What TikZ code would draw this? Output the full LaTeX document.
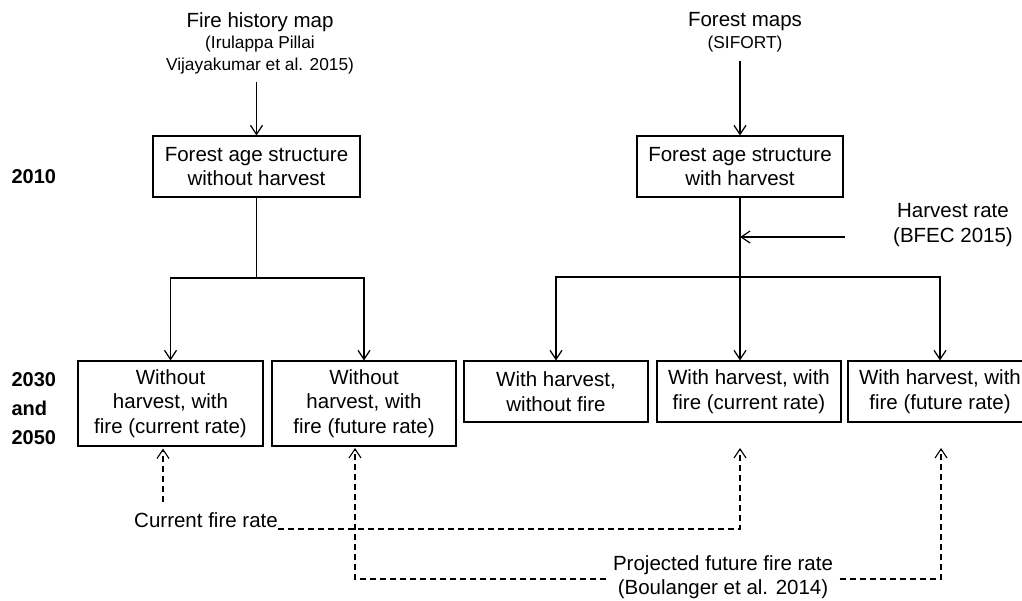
\documentclass[tikz,border=0pt]{standalone}
\usepackage{fontspec}
\setmainfont{Liberation Sans}
\usepackage{tikz}
\usetikzlibrary{positioning,calc,arrows.meta}

\newcommand\bigtxt{\fontsize{20.5}{24.5}\selectfont}
\newcommand\smalltxt{\fontsize{17.3}{22}\selectfont}

\tikzset{
  stagebox/.style={draw, line width=1.2pt, align=center, inner sep=0pt, font=\bigtxt},
  srctext/.style={align=center, inner sep=0pt, font=\bigtxt},
  yeartext/.style={align=left, inner sep=0pt, font=\fontsize{20}{29}\selectfont\bfseries},
  ratelink/.style={dashed, dash pattern=on 6pt off 4pt, line width=1.1pt},
  >={Straight Barb[length=9pt,width=12pt]}
}

\begin{document}
\begin{tikzpicture}[x=1pt,y=-1pt,line width=1.2pt]
    \useasboundingbox (0,0) rectangle (1022,601);
    % Sources
    \node[srctext] (fmap) at (260,22) {Fire history map};
    \node[srctext, font=\smalltxt] (fmapref) at (260,55) {(Irulappa Pillai\\Vijayakumar et al. 2015)};
    \node[srctext] (smap) at (745,22) {Forest maps};
    \node[srctext, font=\smalltxt] (smapref) at (745,44) {(SIFORT)};
    \node[srctext] (hrate) at (953,225) {Harvest rate\\(BFEC 2015)};

    % Years
    \node[yeartext, anchor=west] (y2010) at (11,177) {2010};
    \node[yeartext, anchor=west] (y2030) at (11,409) {2030\\and\\2050};

    % 2010 boxes
    \node[stagebox, minimum width=207pt, minimum height=61pt] (nohrv) at (256.5,166.5) {Forest age structure\\without harvest};
    \node[stagebox, minimum width=206pt, minimum height=61pt] (hrv) at (740,166.5) {Forest age structure\\with harvest};

    % 2030 and 2050 boxes
    \node[stagebox, minimum width=185pt, minimum height=85pt] (nhcur) at (170.5,403.5) {Without\\harvest, with\\fire (current rate)};
    \node[stagebox, minimum width=184pt, minimum height=85pt] (nhfut) at (364,403.5) {Without\\harvest, with\\fire (future rate)};
    \node[stagebox, minimum width=184pt, minimum height=61pt] (hnofire) at (556,391.5) {With harvest,\\without fire};
    \node[stagebox, minimum width=184pt, minimum height=61pt] (hcur) at (749,391.5) {With harvest, with\\fire (current rate)};
    \node[stagebox, minimum width=184pt, minimum height=61pt] (hfut) at (940,391.5) {With harvest, with\\fire (future rate)};

    % Fire rates
    \node[srctext] (curfire) at (206,520) {Current fire rate};
    \node[srctext, inner xsep=6pt] (futfire) at (723,577) {Projected future fire rate\\(Boulanger et al. 2014)};

    % Solid links
    \draw[->, shorten <=7pt] (nohrv.north |- fmapref.south) -- (nohrv.north);
    \draw[->, shorten <=8pt] (hrv.north |- smapref.south) -- (hrv.north);
    \coordinate (split1) at (nohrv.south |- 0,278);
    \coordinate (split2) at (hrv.south |- 0,277);
    \draw (nohrv.south) -- (split1);
    \draw[->] (split1) -| (nhcur.north);
    \draw[->] (split1) -| (nhfut.north);
    \draw (hrv.south) -- (split2);
    \draw[->] (split2) -| (hnofire.north);
    \draw[->] (split2) -- (split2 |- hcur.north);
    \draw[->] (split2) -| (hfut.north);
    \coordinate (hin) at (845,237);
    \draw[->] (hin) -- (hin -| split2);

    % Dashed links
    \coordinate (curup) at (163,502);
    \coordinate (curtip) at (740,448);
    \coordinate (futleft) at (355,448);
    \coordinate (futright) at (941,448);
    \draw[ratelink, ->, shorten >=2pt] (curup) -- (curup |- nhcur.south);
    \draw[ratelink, ->] (curfire.east |- 0,529) -| (curtip);
    \draw[ratelink, ->] (futfire.west |- 0,579) -| (futleft);
    \draw[ratelink, ->] (futfire.east |- 0,579) -| (futright);
\end{tikzpicture}
\end{document}
